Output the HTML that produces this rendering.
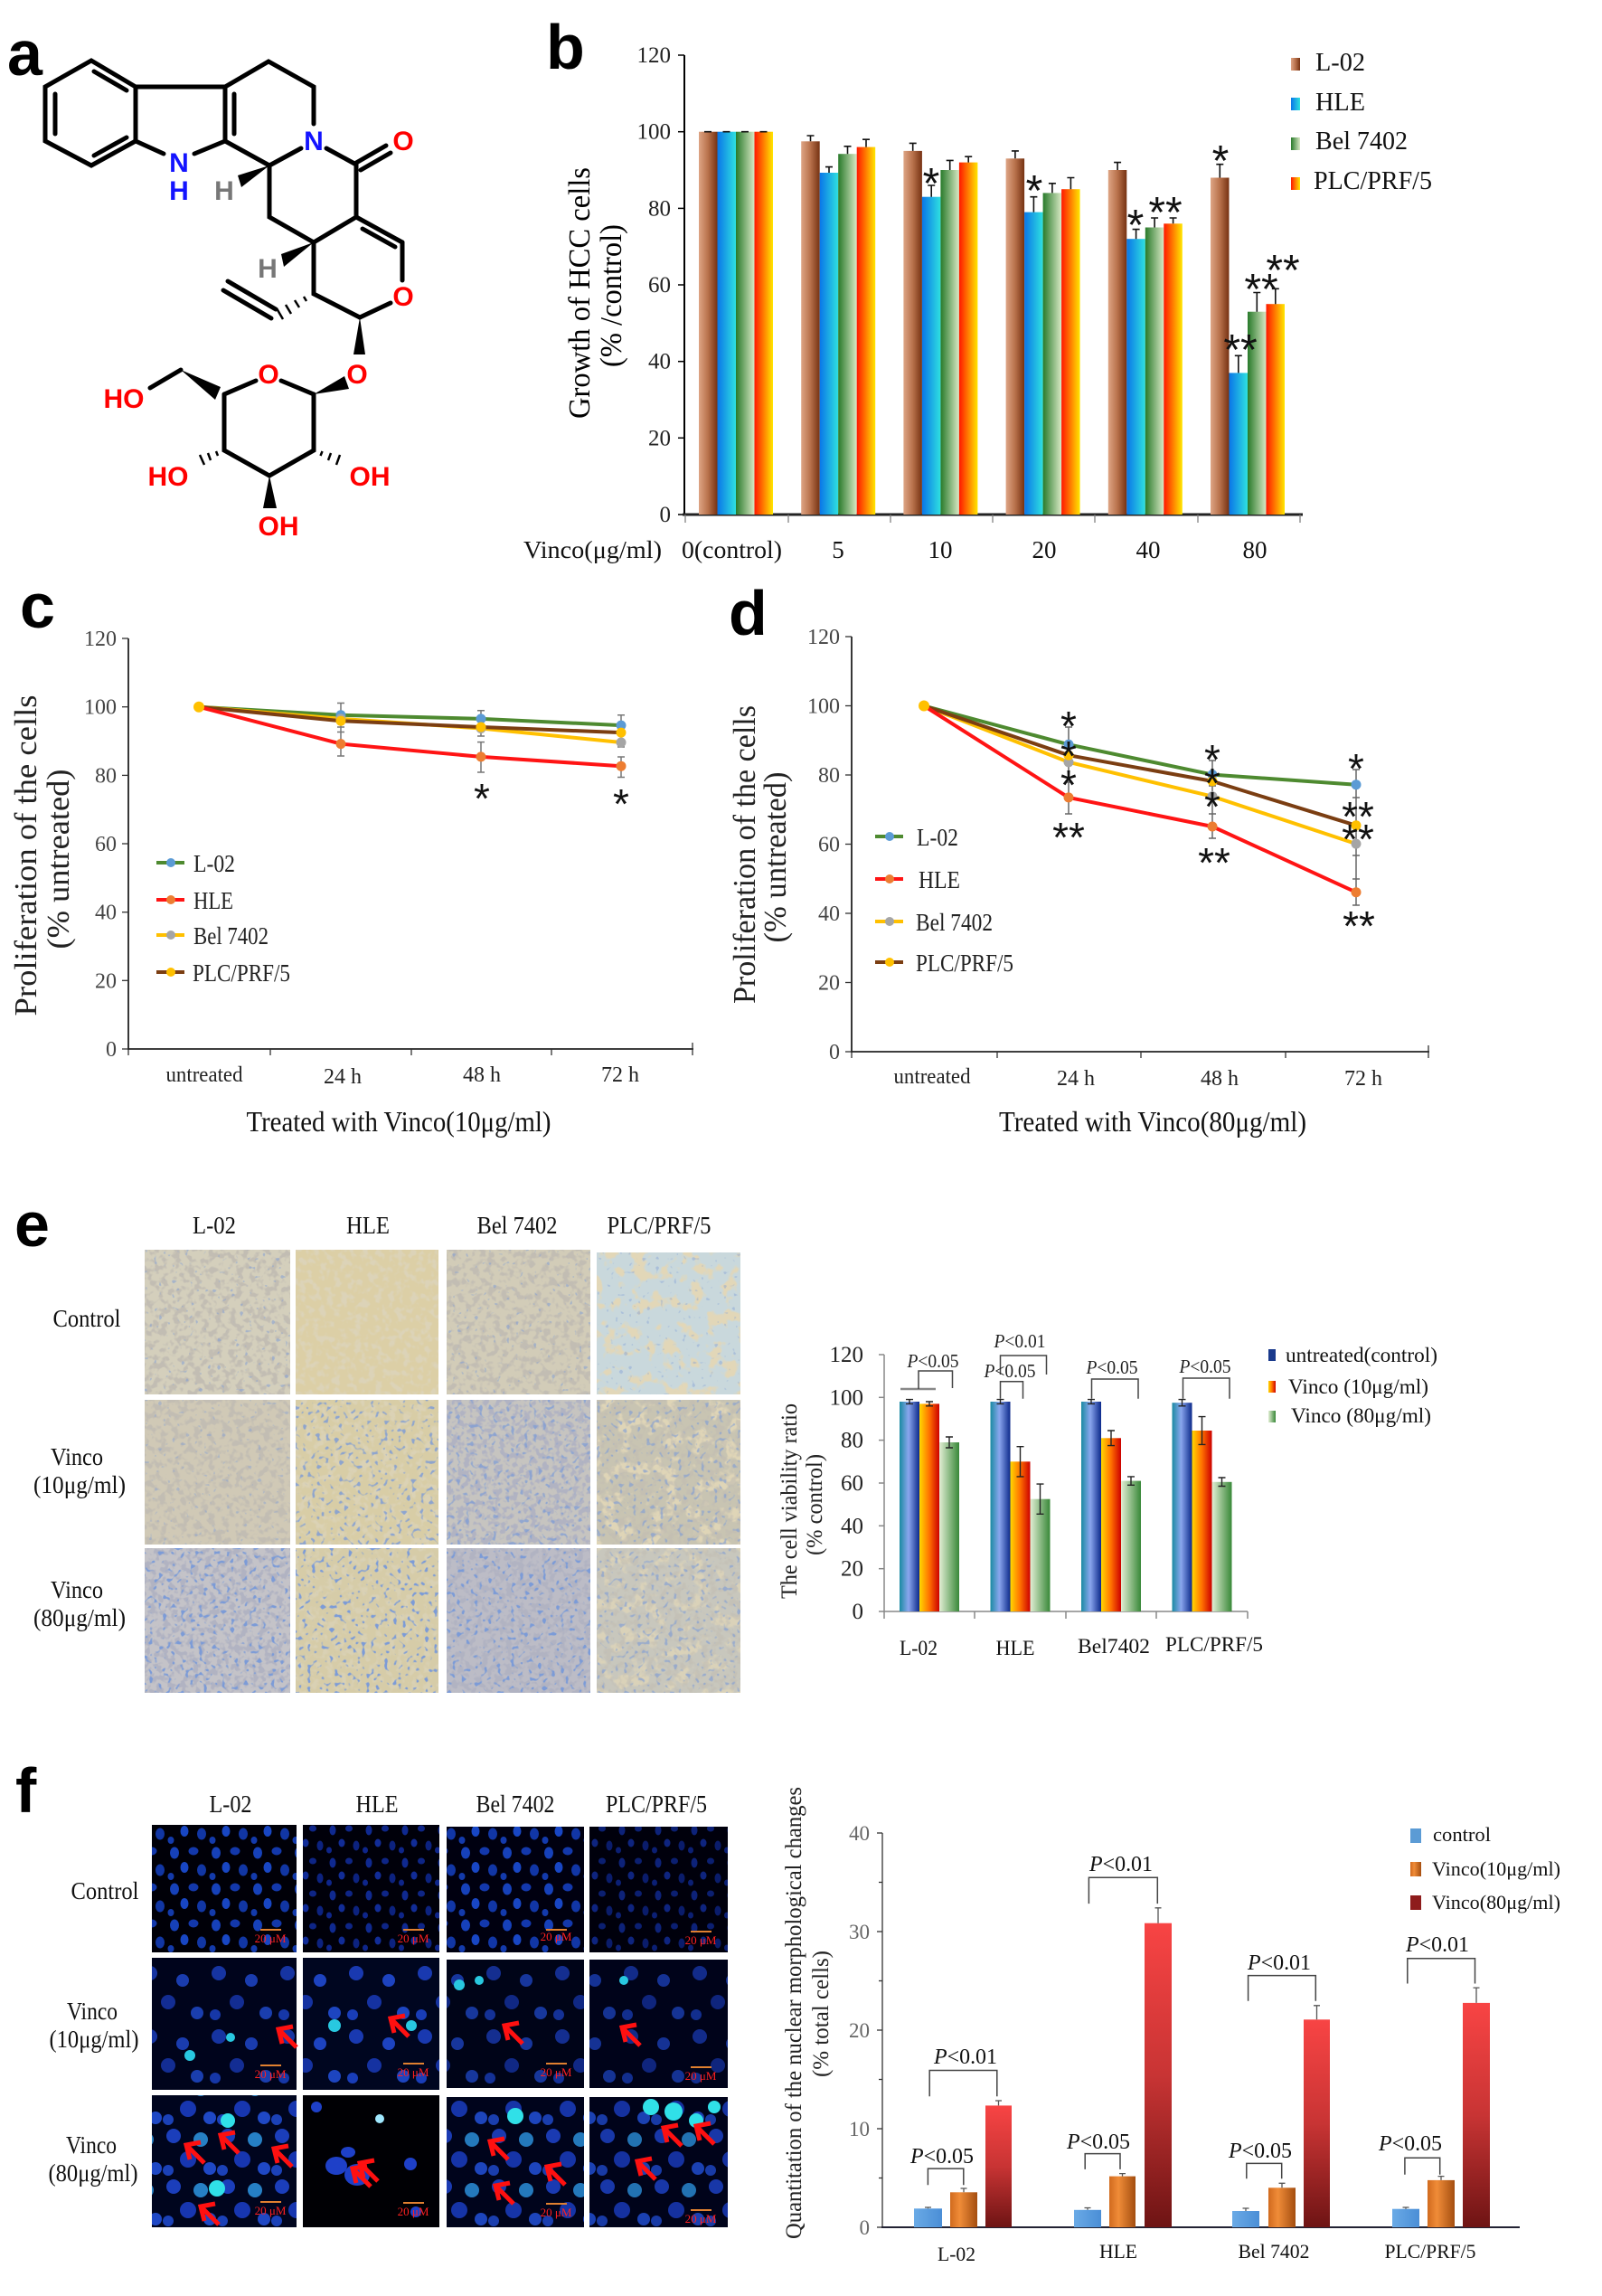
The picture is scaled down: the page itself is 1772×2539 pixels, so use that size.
<!DOCTYPE html>
<html><head><meta charset="utf-8">
<style>
html,body{margin:0;padding:0;background:#fff;}
svg{display:block;}
text{font-family:"Liberation Serif","DejaVu Serif",serif;}
.s{font-family:"Liberation Sans","DejaVu Sans",sans-serif;}
</style></head><body>
<svg width="1772" height="2539" viewBox="0 0 1772 2539" xmlns="http://www.w3.org/2000/svg">
<rect width="1772" height="2539" fill="#fff"/>
<defs>
<linearGradient id="gL" x1="0" x2="1" y1="0" y2="0"><stop offset="0" stop-color="#dea585"/><stop offset="0.5" stop-color="#b8714b"/><stop offset="1" stop-color="#763212"/></linearGradient>
<linearGradient id="gH" x1="0" x2="1" y1="0" y2="0"><stop offset="0" stop-color="#0a76e8"/><stop offset="1" stop-color="#2ee0e0"/></linearGradient>
<linearGradient id="gB" x1="0" x2="1" y1="0" y2="0"><stop offset="0" stop-color="#287a2a"/><stop offset="1" stop-color="#d8e8c4"/></linearGradient>
<linearGradient id="gP" x1="0" x2="1" y1="0" y2="0"><stop offset="0" stop-color="#ff1800"/><stop offset="1" stop-color="#ffe600"/></linearGradient>
<linearGradient id="gEb" x1="0" x2="1" y1="0" y2="0"><stop offset="0" stop-color="#1a8aa2"/><stop offset="0.45" stop-color="#8aa6ee"/><stop offset="1" stop-color="#0c2a8c"/></linearGradient>
<linearGradient id="gEr" x1="0" x2="1" y1="0" y2="0"><stop offset="0" stop-color="#ffd800"/><stop offset="0.5" stop-color="#ff7000"/><stop offset="1" stop-color="#cc0000"/></linearGradient>
<linearGradient id="gEg" x1="0" x2="1" y1="0" y2="0"><stop offset="0" stop-color="#e2eed4"/><stop offset="1" stop-color="#388838"/></linearGradient>
<linearGradient id="gFb" x1="0" x2="1" y1="0" y2="0"><stop offset="0" stop-color="#6aaae6"/><stop offset="1" stop-color="#4a8ed6"/></linearGradient>
<linearGradient id="gFo" x1="0" x2="1" y1="0" y2="0"><stop offset="0" stop-color="#d06a1e"/><stop offset="0.35" stop-color="#f08c38"/><stop offset="1" stop-color="#a44e10"/></linearGradient>
<linearGradient id="gFr" x1="0" x2="0" y1="0" y2="1"><stop offset="0" stop-color="#f84444"/><stop offset="0.5" stop-color="#c83434"/><stop offset="1" stop-color="#6e1414"/></linearGradient>

<filter id="fcg" x="0" y="0" width="1" height="1"><feTurbulence type="fractalNoise" baseFrequency="0.13" numOctaves="2" seed="7"/><feColorMatrix type="matrix" values="0 0 0 0 0.54  0 0 0 0 0.51  0 0 0 0 0.45  7 0 0 0 -3.4"/></filter>
<filter id="fct" x="0" y="0" width="1" height="1"><feTurbulence type="fractalNoise" baseFrequency="0.13" numOctaves="2" seed="3"/><feColorMatrix type="matrix" values="0 0 0 0 0.72  0 0 0 0 0.67  0 0 0 0 0.53  5 0 0 0 -2.4"/></filter>
<filter id="fcb" x="0" y="0" width="1" height="1"><feTurbulence type="fractalNoise" baseFrequency="0.15" numOctaves="2" seed="5"/><feColorMatrix type="matrix" values="0 0 0 0 0.44  0 0 0 0 0.45  0 0 0 0 0.54  7 0 0 0 -3.3"/></filter>
<filter id="fbl" x="0" y="0" width="1" height="1"><feTurbulence type="fractalNoise" baseFrequency="0.2" numOctaves="1" seed="11"/><feColorMatrix type="matrix" values="0 0 0 0 0.2  0 0 0 0 0.33  0 0 0 0 0.68  0 14 0 0 -9.4"/></filter>
<filter id="fbl2" x="0" y="0" width="1" height="1"><feTurbulence type="fractalNoise" baseFrequency="0.2" numOctaves="1" seed="19"/><feColorMatrix type="matrix" values="0 0 0 0 0.2  0 0 0 0 0.33  0 0 0 0 0.68  0 10 0 0 -6.0"/></filter>
<filter id="fpl" x="0" y="0" width="1" height="1"><feTurbulence type="fractalNoise" baseFrequency="0.06" numOctaves="3" seed="23"/><feColorMatrix type="matrix" values="0 0 0 0 0.76  0 0 0 0 0.68  0 0 0 0 0.48  8 0 0 0 -4.3"/></filter>

<pattern id="n1" width="46" height="40" patternUnits="userSpaceOnUse">
 <ellipse cx="9" cy="9" rx="5" ry="6.5" fill="#1a4cd8"/>
 <ellipse cx="30" cy="7" rx="5.5" ry="4.5" fill="#1642c8"/>
 <ellipse cx="20" cy="25" rx="4.5" ry="6" fill="#1c52e4"/>
 <ellipse cx="39" cy="28" rx="5" ry="6.5" fill="#1440c0"/>
 <ellipse cx="5" cy="35" rx="3.5" ry="4" fill="#1644c8"/>
</pattern>
<pattern id="n1d" width="40" height="36" patternUnits="userSpaceOnUse">
 <ellipse cx="8" cy="8" rx="3.5" ry="5.5" fill="#1230a8"/>
 <ellipse cx="26" cy="6" rx="4" ry="3.5" fill="#102c9c"/>
 <ellipse cx="18" cy="22" rx="3.5" ry="4.5" fill="#1434b0"/>
 <ellipse cx="34" cy="25" rx="3.5" ry="5.5" fill="#0e2894"/>
 <ellipse cx="4" cy="30" rx="3" ry="3.5" fill="#102ca0"/>
</pattern>
<pattern id="n2" width="76" height="70" patternUnits="userSpaceOnUse">
 <circle cx="14" cy="12" r="8" fill="#1a3cb8"/>
 <circle cx="50" cy="20" r="7" fill="#1e46c8"/>
 <circle cx="34" cy="44" r="8" fill="#1634a8"/>
 <circle cx="66" cy="56" r="7" fill="#1e48c8"/>
 <circle cx="10" cy="58" r="6" fill="#1a40c0"/>
</pattern>
<pattern id="n3" width="60" height="56" patternUnits="userSpaceOnUse">
 <circle cx="12" cy="10" r="8" fill="#1e44cc"/>
 <circle cx="42" cy="14" r="8" fill="#2a8ed8"/>
 <circle cx="28" cy="36" r="9" fill="#1a3cc0"/>
 <circle cx="52" cy="46" r="7" fill="#2250d8"/>
 <circle cx="6" cy="48" r="6" fill="#1e48c8"/>
</pattern>
<g id="arr"><path d="M16,-3 L0,0 L4,16 M0,0 L20,20" fill="none" stroke="#ff1010" stroke-width="5"/></g>
</defs>

<!-- ============ PANEL LABELS ============ -->
<g class="s" font-weight="bold" font-size="70" fill="#000">
<text class="s" x="8" y="83">a</text>
<text class="s" x="604" y="76">b</text>
<text class="s" x="22" y="694">c</text>
<text class="s" x="806" y="702">d</text>
<text class="s" x="16" y="1378">e</text>
<text class="s" x="17" y="2004">f</text>
</g>

<!-- ============ PANEL A: molecule ============ -->
<g stroke="#000" stroke-width="5" fill="none" stroke-linecap="round">
<path d="M101,67 L150,96 L150,156 L101,183 L50,156 L50,96 Z"/>
<line x1="104" y1="79" x2="140" y2="100"/>
<line x1="140" y1="152" x2="104" y2="172"/>
<line x1="61" y1="104" x2="61" y2="148"/>
<line x1="150" y1="96" x2="249" y2="96"/>
<line x1="150" y1="156" x2="181" y2="170"/>
<line x1="215" y1="170" x2="249" y2="156"/>
<line x1="249" y1="96" x2="249" y2="156"/>
<line x1="259" y1="104" x2="259" y2="148"/>
<path d="M249,96 L297,68 L347,96 L347,137"/>
<line x1="249" y1="156" x2="298" y2="183"/>
<line x1="298" y1="183" x2="333" y2="164"/>
<line x1="361" y1="164" x2="394" y2="182"/>
<line x1="394" y1="180" x2="427" y2="161"/>
<line x1="399" y1="188" x2="432" y2="169"/>
<path d="M298,183 L298,240 L347,268 L394,240 L394,182"/>
<line x1="394" y1="240" x2="445" y2="268"/>
<line x1="401" y1="253" x2="437" y2="273"/>
<line x1="445" y1="268" x2="445" y2="310"/>
<line x1="432" y1="335" x2="398" y2="351"/>
<path d="M398,351 L347,325 L347,268"/>
<line x1="300" y1="352" x2="247" y2="321"/>
<line x1="305" y1="342" x2="252" y2="311"/>
<line x1="311" y1="421" x2="347" y2="436"/>
<line x1="283" y1="421" x2="248" y2="436"/>
<path d="M248,436 L248,498 L298,526 L347,498 L347,436"/>
<line x1="200" y1="409" x2="166" y2="429"/>
</g>
<g stroke="#000" stroke-width="2.5">
<line x1="336" y1="328" x2="339" y2="333"/>
<line x1="326" y1="332" x2="331" y2="340"/>
<line x1="316" y1="337" x2="322" y2="347"/>
<line x1="306" y1="341" x2="313" y2="353"/>
<line x1="239" y1="499" x2="241" y2="504"/>
<line x1="230" y1="501" x2="233" y2="509"/>
<line x1="221" y1="503" x2="226" y2="514"/>
<line x1="356.5" y1="499" x2="354.5" y2="504"/>
<line x1="366" y1="501" x2="363" y2="509"/>
<line x1="376" y1="503" x2="372" y2="514"/>
</g>
<g fill="#000">
<polygon points="298,183 263,194 267,207"/>
<polygon points="347,268 311,281 314,295"/>
<polygon points="398,351 391,392 404,392"/>
<polygon points="347,436 381,416 386,430"/>
<polygon points="200,409 244,428 238,442"/>
<polygon points="298,526 291,562 306,562"/>
</g>
<g class="s" font-weight="bold" font-size="30" text-anchor="middle">
<text class="s" x="198" y="190" fill="#1414ff">N</text>
<text class="s" x="198" y="221" fill="#1414ff">H</text>
<text class="s" x="347" y="166" fill="#1414ff">N</text>
<text class="s" x="248" y="221" fill="#777">H</text>
<text class="s" x="296" y="307" fill="#777">H</text>
<text class="s" x="446" y="166" fill="#ff0000">O</text>
<text class="s" x="446" y="338" fill="#ff0000">O</text>
<text class="s" x="395" y="424" fill="#ff0000">O</text>
<text class="s" x="297" y="424" fill="#ff0000">O</text>
<text class="s" x="137" y="451" fill="#ff0000">HO</text>
<text class="s" x="186" y="537" fill="#ff0000">HO</text>
<text class="s" x="409" y="537" fill="#ff0000">OH</text>
<text class="s" x="308" y="592" fill="#ff0000">OH</text>
</g>

<!-- ============ PANEL B ============ -->
<g stroke="#000" stroke-width="1.5">
<line x1="757" y1="61" x2="757" y2="570" stroke-width="2"/>
<line x1="750" y1="61" x2="757" y2="61"/><line x1="750" y1="145.7" x2="757" y2="145.7"/><line x1="750" y1="230.4" x2="757" y2="230.4"/><line x1="750" y1="315" x2="757" y2="315"/><line x1="750" y1="399.7" x2="757" y2="399.7"/><line x1="750" y1="484.3" x2="757" y2="484.3"/><line x1="750" y1="569" x2="757" y2="569"/>
</g>
<line x1="755" y1="569" x2="1441" y2="569" stroke="#222" stroke-width="3"/>
<g stroke="#777" stroke-width="1.2">
<line x1="758" y1="569" x2="758" y2="578"/><line x1="872" y1="569" x2="872" y2="578"/><line x1="985" y1="569" x2="985" y2="578"/><line x1="1098" y1="569" x2="1098" y2="578"/><line x1="1211" y1="569" x2="1211" y2="578"/><line x1="1325" y1="569" x2="1325" y2="578"/><line x1="1438" y1="569" x2="1438" y2="578"/>
</g>
<g font-size="25" text-anchor="end" fill="#222">
<text x="742" y="69">120</text><text x="742" y="153.7">100</text><text x="742" y="238.4">80</text><text x="742" y="323">60</text><text x="742" y="407.7">40</text><text x="742" y="492.3">20</text><text x="742" y="577">0</text>
</g>
<g font-size="27" fill="#111">
<text x="579" y="617" textLength="153" lengthAdjust="spacingAndGlyphs">Vinco(μg/ml)</text>
<text x="754" y="617" textLength="111" lengthAdjust="spacingAndGlyphs">0(control)</text>
<g text-anchor="middle"><text x="927" y="617">5</text><text x="1040" y="617">10</text><text x="1155" y="617">20</text><text x="1270" y="617">40</text><text x="1388" y="617">80</text></g>
</g>
<text transform="translate(652,324) rotate(-90)" text-anchor="middle" font-size="34" textLength="278" lengthAdjust="spacingAndGlyphs">Growth of HCC cells</text>
<text transform="translate(687,327) rotate(-90)" text-anchor="middle" font-size="34" textLength="158" lengthAdjust="spacingAndGlyphs">(% /control)</text>
<g>
<rect x="773" y="145.7" width="20.5" height="423.3" fill="url(#gL)"/><rect x="793.5" y="145.7" width="20.5" height="423.3" fill="url(#gH)"/><rect x="814" y="145.7" width="20.5" height="423.3" fill="url(#gB)"/><rect x="834.5" y="145.7" width="20.5" height="423.3" fill="url(#gP)"/>
<rect x="886.2" y="156.3" width="20.5" height="412.7" fill="url(#gL)"/><rect x="906.7" y="191" width="20.5" height="378" fill="url(#gH)"/><rect x="927.2" y="170.2" width="20.5" height="398.8" fill="url(#gB)"/><rect x="947.7" y="162.6" width="20.5" height="406.4" fill="url(#gP)"/>
<rect x="999.4" y="166.9" width="20.5" height="402.1" fill="url(#gL)"/><rect x="1019.9" y="217.7" width="20.5" height="351.3" fill="url(#gH)"/><rect x="1040.4" y="188" width="20.5" height="381" fill="url(#gB)"/><rect x="1060.9" y="179.6" width="20.5" height="389.4" fill="url(#gP)"/>
<rect x="1112.6" y="175.3" width="20.5" height="393.7" fill="url(#gL)"/><rect x="1133.1" y="234.6" width="20.5" height="334.4" fill="url(#gH)"/><rect x="1153.6" y="213.4" width="20.5" height="355.6" fill="url(#gB)"/><rect x="1174.1" y="209.2" width="20.5" height="359.8" fill="url(#gP)"/>
<rect x="1225.8" y="188" width="20.5" height="381" fill="url(#gL)"/><rect x="1246.3" y="264.2" width="20.5" height="304.8" fill="url(#gH)"/><rect x="1266.8" y="251.5" width="20.5" height="317.5" fill="url(#gB)"/><rect x="1287.3" y="247.3" width="20.5" height="321.7" fill="url(#gP)"/>
<rect x="1339" y="196.5" width="20.5" height="372.5" fill="url(#gL)"/><rect x="1359.5" y="412.4" width="20.5" height="156.6" fill="url(#gH)"/><rect x="1380" y="344.7" width="20.5" height="224.3" fill="url(#gB)"/><rect x="1400.5" y="336.2" width="20.5" height="232.8" fill="url(#gP)"/>
</g>
<g stroke="#111" stroke-width="1.6" fill="none">
<path d="M779,145.7 H787 M799.5,145.7 H807.5 M820,145.7 H828 M840.5,145.7 H848.5"/>
<path d="M896.5,150 V156.3 M892.5,150 H900.5 M917,184.6 V191 M913,184.6 H921 M937.5,161.8 V170.2 M933.5,161.8 H941.5 M958,154.2 V162.6 M954,154.2 H962"/>
<path d="M1009.7,158.4 V166.9 M1005.7,158.4 H1013.7 M1030.2,205 V217.7 M1026.2,205 H1034.2 M1050.7,177.4 V188 M1046.7,177.4 H1054.7 M1071.2,173.2 V179.6 M1067.2,173.2 H1075.2"/>
<path d="M1122.9,166.9 V175.3 M1118.9,166.9 H1126.9 M1143.4,217.7 V234.6 M1139.4,217.7 H1147.4 M1163.9,202.8 V213.4 M1159.9,202.8 H1167.9 M1184.4,196.5 V209.2 M1180.4,196.5 H1188.4"/>
<path d="M1236.1,179.6 V188 M1232.1,179.6 H1240.1 M1256.6,253.6 V264.2 M1252.6,253.6 H1260.6 M1277.1,241 V251.5 M1273.1,241 H1281.1 M1297.6,241 V247.3 M1293.6,241 H1301.6"/>
<path d="M1349.3,181.7 V196.5 M1345.3,181.7 H1353.3 M1369.8,393.3 V412.4 M1365.8,393.3 H1373.8 M1390.3,323.5 V344.7 M1386.3,323.5 H1394.3 M1410.8,319.3 V336.2 M1406.8,319.3 H1414.8"/>
</g>
<g class="s" font-size="48" text-anchor="middle" fill="#111">
<text class="s" x="1030" y="219">*</text>
<text class="s" x="1144" y="227">*</text>
<text class="s" x="1256" y="265">*</text>
<text class="s" x="1289" y="251">**</text>
<text class="s" x="1350" y="194">*</text>
<text class="s" x="1372" y="403">**</text>
<text class="s" x="1395" y="336">**</text>
<text class="s" x="1419" y="315">**</text>
</g>
<rect x="1428" y="64" width="10" height="14" fill="url(#gL)"/>
<rect x="1428" y="108" width="10" height="14" fill="url(#gH)"/>
<rect x="1428" y="152" width="10" height="14" fill="url(#gB)"/>
<rect x="1428" y="196" width="10" height="14" fill="url(#gP)"/>
<g font-size="28" fill="#111">
<text x="1455" y="78" textLength="55" lengthAdjust="spacingAndGlyphs">L-02</text>
<text x="1455" y="122" textLength="55" lengthAdjust="spacingAndGlyphs">HLE</text>
<text x="1455" y="165" textLength="102" lengthAdjust="spacingAndGlyphs">Bel 7402</text>
<text x="1453" y="209" textLength="131" lengthAdjust="spacingAndGlyphs">PLC/PRF/5</text>
</g>

<!-- ============ PANEL C ============ -->
<g stroke="#222" stroke-width="1.8">
<line x1="142" y1="706" x2="142" y2="1161"/>
<line x1="141" y1="1160" x2="767" y2="1160"/>
</g>
<g stroke="#333" stroke-width="1.3">
<line x1="135" y1="706" x2="142" y2="706"/><line x1="135" y1="781.7" x2="142" y2="781.7"/><line x1="135" y1="857.4" x2="142" y2="857.4"/><line x1="135" y1="933" x2="142" y2="933"/><line x1="135" y1="1008.7" x2="142" y2="1008.7"/><line x1="135" y1="1084.3" x2="142" y2="1084.3"/><line x1="135" y1="1160" x2="142" y2="1160"/>
<line x1="299" y1="1160" x2="299" y2="1167"/><line x1="455" y1="1160" x2="455" y2="1167"/><line x1="610" y1="1160" x2="610" y2="1167"/><line x1="766" y1="1153" x2="766" y2="1167"/><line x1="142" y1="1160" x2="142" y2="1167"/>
</g>
<g font-size="24" text-anchor="end" fill="#444">
<text x="129" y="714">120</text><text x="129" y="789.7">100</text><text x="129" y="865.4">80</text><text x="129" y="941">60</text><text x="129" y="1016.7">40</text><text x="129" y="1092.3">20</text><text x="129" y="1168">0</text>
</g>
<g font-size="24" text-anchor="middle" fill="#222">
<text x="226" y="1196" textLength="85" lengthAdjust="spacingAndGlyphs">untreated</text>
<text x="379" y="1198">24 h</text><text x="533" y="1196">48 h</text><text x="686" y="1196">72 h</text>
</g>
<text x="441" y="1251" font-size="32" text-anchor="middle" textLength="337" lengthAdjust="spacingAndGlyphs" fill="#111">Treated with Vinco(10μg/ml)</text>
<text transform="translate(40,946) rotate(-90)" text-anchor="middle" font-size="35" textLength="355" lengthAdjust="spacingAndGlyphs" fill="#222">Proliferation of the cells</text>
<text transform="translate(76,950) rotate(-90)" text-anchor="middle" font-size="35" textLength="199" lengthAdjust="spacingAndGlyphs" fill="#222">(% untreated)</text>
<g stroke="#777" stroke-width="1.5" fill="none">
<path d="M377,777.5 V809 M373,777.5 H381 M373,804 H381 M377,809.5 V836 M373,809.5 H381 M373,836 H381"/>
<path d="M532,785.7 V802 M528,785.7 H536 M532,801 V814 M528,814 H536 M532,820.6 V854 M528,820.6 H536 M528,854 H536"/>
<path d="M687,790.7 V812.4 M683,790.7 H691 M683,812.4 H691 M687,816.5 V826 M683,826 H691 M687,837 V859.5 M683,837 H691 M683,859.5 H691"/>
</g>
<g fill="none" stroke-width="4" stroke-linejoin="round">
<polyline points="220,781.7 377,790.8 532,794.9 687,802.1" stroke="#4e8a30"/>
<polyline points="220,781.7 377,794.9 532,805.5 687,821" stroke="#ffc000"/>
<polyline points="220,781.7 377,797.2 532,804 687,810.1" stroke="#7b3e12"/>
<polyline points="220,781.7 377,822.6 532,836.9 687,847.2" stroke="#ff1414"/>
</g>
<g>
<circle cx="377" cy="790.8" r="5.5" fill="#5b9bd5"/><circle cx="532" cy="794.9" r="5.5" fill="#5b9bd5"/><circle cx="687" cy="802.1" r="5.5" fill="#5b9bd5"/>
<circle cx="377" cy="794.9" r="5.5" fill="#a5a5a5"/><circle cx="532" cy="805.5" r="5.5" fill="#a5a5a5"/><circle cx="687" cy="821" r="5.5" fill="#a5a5a5"/>
<circle cx="377" cy="797.2" r="5.5" fill="#ffc000"/><circle cx="532" cy="804" r="5.5" fill="#ffc000"/><circle cx="687" cy="810.1" r="5.5" fill="#ffc000"/>
<circle cx="377" cy="822.6" r="5.5" fill="#ed7d31"/><circle cx="532" cy="836.9" r="5.5" fill="#ed7d31"/><circle cx="687" cy="847.2" r="5.5" fill="#ed7d31"/>
<circle cx="220" cy="781.7" r="6" fill="#ffc000"/>
</g>
<g class="s" font-size="46" text-anchor="middle" fill="#111">
<text class="s" x="533" y="899">*</text><text class="s" x="687" y="905">*</text>
</g>
<g stroke-width="4">
<line x1="173" y1="954" x2="204" y2="954" stroke="#4e8a30"/><circle cx="189" cy="954" r="5" fill="#5b9bd5"/>
<line x1="173" y1="995" x2="204" y2="995" stroke="#ff1414"/><circle cx="189" cy="995" r="5" fill="#ed7d31"/>
<line x1="173" y1="1034" x2="204" y2="1034" stroke="#ffc000"/><circle cx="189" cy="1034" r="5" fill="#a5a5a5"/>
<line x1="173" y1="1075" x2="204" y2="1075" stroke="#7b3e12"/><circle cx="189" cy="1075" r="5" fill="#ffc000"/>
</g>
<g font-size="27" fill="#222">
<text x="214" y="964" textLength="46" lengthAdjust="spacingAndGlyphs">L-02</text>
<text x="214" y="1005" textLength="44" lengthAdjust="spacingAndGlyphs">HLE</text>
<text x="214" y="1044" textLength="83" lengthAdjust="spacingAndGlyphs">Bel 7402</text>
<text x="213" y="1085" textLength="108" lengthAdjust="spacingAndGlyphs">PLC/PRF/5</text>
</g>

<!-- ============ PANEL D ============ -->
<g stroke="#222" stroke-width="1.8">
<line x1="942" y1="704" x2="942" y2="1164"/>
<line x1="941" y1="1163" x2="1581" y2="1163"/>
</g>
<g stroke="#333" stroke-width="1.3">
<line x1="935" y1="704" x2="942" y2="704"/><line x1="935" y1="780.5" x2="942" y2="780.5"/><line x1="935" y1="857" x2="942" y2="857"/><line x1="935" y1="933.5" x2="942" y2="933.5"/><line x1="935" y1="1010" x2="942" y2="1010"/><line x1="935" y1="1086.5" x2="942" y2="1086.5"/><line x1="935" y1="1163" x2="942" y2="1163"/>
<line x1="942" y1="1163" x2="942" y2="1170"/><line x1="1103" y1="1163" x2="1103" y2="1170"/><line x1="1262" y1="1163" x2="1262" y2="1170"/><line x1="1422" y1="1163" x2="1422" y2="1170"/><line x1="1580" y1="1156" x2="1580" y2="1170"/>
</g>
<g font-size="24" text-anchor="end" fill="#444">
<text x="929" y="712">120</text><text x="929" y="788.5">100</text><text x="929" y="865">80</text><text x="929" y="941.5">60</text><text x="929" y="1018">40</text><text x="929" y="1094.5">20</text><text x="929" y="1171">0</text>
</g>
<g font-size="24" text-anchor="middle" fill="#222">
<text x="1031" y="1198" textLength="85" lengthAdjust="spacingAndGlyphs">untreated</text>
<text x="1190" y="1200">24 h</text><text x="1349" y="1200">48 h</text><text x="1508" y="1200">72 h</text>
</g>
<text x="1275" y="1251" font-size="32" text-anchor="middle" textLength="340" lengthAdjust="spacingAndGlyphs" fill="#111">Treated with Vinco(80μg/ml)</text>
<text transform="translate(835,945) rotate(-90)" text-anchor="middle" font-size="35" textLength="330" lengthAdjust="spacingAndGlyphs" fill="#222">Proliferation of the cells</text>
<text transform="translate(869,948) rotate(-90)" text-anchor="middle" font-size="35" textLength="189" lengthAdjust="spacingAndGlyphs" fill="#222">(% untreated)</text>
<g stroke="#666" stroke-width="1.5" fill="none">
<path d="M1182,804 V900 M1178,804 H1186 M1178,842 H1186 M1178,865 H1186 M1178,900 H1186"/>
<path d="M1341,841 V927 M1337,841 H1345 M1337,869 H1345 M1337,900 H1345 M1337,927 H1345"/>
<path d="M1500,851 V1001 M1496,851 H1504 M1496,882 H1504 M1496,946 H1504 M1496,972 H1504 M1496,1001 H1504"/>
</g>
<g fill="none" stroke-width="4" stroke-linejoin="round">
<polyline points="1022,780.5 1182,823.3 1341,856.6 1500,867.7" stroke="#4e8a30"/>
<polyline points="1022,780.5 1182,842.8 1341,880.7 1500,933.1" stroke="#ffc000"/>
<polyline points="1022,780.5 1182,835.2 1341,863.9 1500,912.8" stroke="#7b3e12"/>
<polyline points="1022,780.5 1182,881.9 1341,914 1500,986.7" stroke="#ff1414"/>
</g>
<g>
<circle cx="1182" cy="823.3" r="5.5" fill="#5b9bd5"/><circle cx="1341" cy="856.6" r="5.5" fill="#5b9bd5"/><circle cx="1500" cy="867.7" r="5.5" fill="#5b9bd5"/>
<circle cx="1182" cy="842.8" r="5.5" fill="#a5a5a5"/><circle cx="1341" cy="880.7" r="5.5" fill="#a5a5a5"/><circle cx="1500" cy="933.1" r="5.5" fill="#a5a5a5"/>
<circle cx="1182" cy="835.2" r="5.5" fill="#ffc000"/><circle cx="1341" cy="863.9" r="5.5" fill="#ffc000"/><circle cx="1500" cy="912.8" r="5.5" fill="#ffc000"/>
<circle cx="1182" cy="881.9" r="5.5" fill="#ed7d31"/><circle cx="1341" cy="914" r="5.5" fill="#ed7d31"/><circle cx="1500" cy="986.7" r="5.5" fill="#ed7d31"/>
<circle cx="1022" cy="780.5" r="6" fill="#ffc000"/>
</g>
<g class="s" font-size="46" text-anchor="middle" fill="#111">
<text class="s" x="1182" y="819">*</text><text class="s" x="1182" y="852">*</text><text class="s" x="1182" y="884">*</text><text class="s" x="1182" y="942">**</text>
<text class="s" x="1341" y="856">*</text><text class="s" x="1341" y="882">*</text><text class="s" x="1341" y="908">*</text><text class="s" x="1343" y="970">**</text>
<text class="s" x="1500" y="866">*</text><text class="s" x="1502" y="919">**</text><text class="s" x="1502" y="944">**</text><text class="s" x="1503" y="1040">**</text>
</g>
<g stroke-width="4">
<line x1="968" y1="925" x2="999" y2="925" stroke="#4e8a30"/><circle cx="984" cy="925" r="5" fill="#5b9bd5"/>
<line x1="968" y1="972" x2="999" y2="972" stroke="#ff1414"/><circle cx="984" cy="972" r="5" fill="#ed7d31"/>
<line x1="968" y1="1019" x2="999" y2="1019" stroke="#ffc000"/><circle cx="984" cy="1019" r="5" fill="#a5a5a5"/>
<line x1="968" y1="1064" x2="999" y2="1064" stroke="#7b3e12"/><circle cx="984" cy="1064" r="5" fill="#ffc000"/>
</g>
<g font-size="27" fill="#222">
<text x="1014" y="935" textLength="46" lengthAdjust="spacingAndGlyphs">L-02</text>
<text x="1016" y="982" textLength="46" lengthAdjust="spacingAndGlyphs">HLE</text>
<text x="1013" y="1029" textLength="85" lengthAdjust="spacingAndGlyphs">Bel 7402</text>
<text x="1013" y="1074" textLength="108" lengthAdjust="spacingAndGlyphs">PLC/PRF/5</text>
</g>

<!-- ============ PANEL E images ============ -->
<g font-size="27" text-anchor="middle" fill="#111">
<text x="237" y="1364" textLength="48" lengthAdjust="spacingAndGlyphs">L-02</text>
<text x="407" y="1364" textLength="48" lengthAdjust="spacingAndGlyphs">HLE</text>
<text x="572" y="1364" textLength="89" lengthAdjust="spacingAndGlyphs">Bel 7402</text>
<text x="729" y="1364" textLength="115" lengthAdjust="spacingAndGlyphs">PLC/PRF/5</text>
<text x="96" y="1467" textLength="75" lengthAdjust="spacingAndGlyphs">Control</text>
<text x="85" y="1620" textLength="58" lengthAdjust="spacingAndGlyphs">Vinco</text>
<text x="88" y="1651" textLength="102" lengthAdjust="spacingAndGlyphs">(10μg/ml)</text>
<text x="85" y="1767" textLength="58" lengthAdjust="spacingAndGlyphs">Vinco</text>
<text x="88" y="1798" textLength="102" lengthAdjust="spacingAndGlyphs">(80μg/ml)</text>
</g>
<!-- row 1 -->
<rect x="160" y="1382" width="161" height="160" fill="#d4cfbc"/><rect x="160" y="1382" width="161" height="160" filter="url(#fcg)"/><rect x="160" y="1382" width="161" height="160" filter="url(#fbl)" opacity="0.5"/>
<rect x="327" y="1382" width="158" height="160" fill="#dccfa6"/><rect x="327" y="1382" width="158" height="160" filter="url(#fct)" opacity="0.7"/>
<rect x="494" y="1382" width="159" height="160" fill="#d2ccb8"/><rect x="494" y="1382" width="159" height="160" filter="url(#fcg)"/><rect x="494" y="1382" width="159" height="160" filter="url(#fbl)" opacity="0.5"/>
<rect x="660" y="1385" width="159" height="157" fill="#c9d8dc"/><rect x="660" y="1385" width="159" height="157" filter="url(#fpl)"/><rect x="660" y="1385" width="159" height="157" filter="url(#fbl)" opacity="0.4"/>
<!-- row 2 -->
<rect x="160" y="1548" width="161" height="160" fill="#d0c9b6"/><rect x="160" y="1548" width="161" height="160" filter="url(#fcg)"/><rect x="160" y="1548" width="161" height="160" filter="url(#fbl)" opacity="0.4"/>
<rect x="327" y="1548" width="158" height="160" fill="#d8cda6"/><rect x="327" y="1548" width="158" height="160" filter="url(#fct)" opacity="0.6"/><rect x="327" y="1548" width="158" height="160" filter="url(#fbl2)" opacity="0.8"/>
<rect x="494" y="1548" width="159" height="160" fill="#c6c4c0"/><rect x="494" y="1548" width="159" height="160" filter="url(#fcb)"/><rect x="494" y="1548" width="159" height="160" filter="url(#fbl2)" opacity="0.7"/>
<rect x="660" y="1548" width="159" height="160" fill="#c8c4b2"/><rect x="660" y="1548" width="159" height="160" filter="url(#fpl)" opacity="0.9"/><rect x="660" y="1548" width="159" height="160" filter="url(#fcg)" opacity="0.6"/><rect x="660" y="1548" width="159" height="160" filter="url(#fbl2)" opacity="0.6"/>
<!-- row 3 -->
<rect x="160" y="1712" width="161" height="160" fill="#c4c3c8"/><rect x="160" y="1712" width="161" height="160" filter="url(#fcb)"/><rect x="160" y="1712" width="161" height="160" filter="url(#fbl2)"/>
<rect x="327" y="1712" width="158" height="160" fill="#d6cca8"/><rect x="327" y="1712" width="158" height="160" filter="url(#fct)" opacity="0.5"/><rect x="327" y="1712" width="158" height="160" filter="url(#fbl2)"/>
<rect x="494" y="1712" width="159" height="160" fill="#bcbcc6"/><rect x="494" y="1712" width="159" height="160" filter="url(#fcb)"/><rect x="494" y="1712" width="159" height="160" filter="url(#fbl2)"/>
<rect x="660" y="1712" width="159" height="160" fill="#c8c7bd"/><rect x="660" y="1712" width="159" height="160" filter="url(#fpl)" opacity="0.7"/><rect x="660" y="1712" width="159" height="160" filter="url(#fcg)" opacity="0.5"/><rect x="660" y="1712" width="159" height="160" filter="url(#fbl2)" opacity="0.6"/>

<!-- ============ PANEL E chart ============ -->
<g stroke="#888" stroke-width="1.5">
<line x1="978" y1="1498" x2="978" y2="1790"/>
<line x1="978" y1="1782" x2="1380" y2="1782"/>
<line x1="972" y1="1498" x2="978" y2="1498"/><line x1="972" y1="1545.3" x2="978" y2="1545.3"/><line x1="972" y1="1592.6" x2="978" y2="1592.6"/><line x1="972" y1="1640" x2="978" y2="1640"/><line x1="972" y1="1687.3" x2="978" y2="1687.3"/><line x1="972" y1="1734.7" x2="978" y2="1734.7"/><line x1="972" y1="1782" x2="978" y2="1782"/>
<line x1="1078" y1="1782" x2="1078" y2="1790"/><line x1="1179" y1="1782" x2="1179" y2="1790"/><line x1="1279" y1="1782" x2="1279" y2="1790"/><line x1="1380" y1="1782" x2="1380" y2="1790"/>
</g>
<g font-size="25" text-anchor="end" fill="#222">
<text x="955" y="1506">120</text><text x="955" y="1553.3">100</text><text x="955" y="1600.6">80</text><text x="955" y="1648">60</text><text x="955" y="1695.3">40</text><text x="955" y="1742.7">20</text><text x="955" y="1790">0</text>
</g>
<text transform="translate(881,1660) rotate(-90)" text-anchor="middle" font-size="25" textLength="216" lengthAdjust="spacingAndGlyphs" fill="#222">The cell viability ratio</text>
<text transform="translate(909,1664) rotate(-90)" text-anchor="middle" font-size="25" textLength="112" lengthAdjust="spacingAndGlyphs" fill="#222">(% control)</text>
<g font-size="23" text-anchor="middle" fill="#111">
<text x="1016" y="1830" textLength="42" lengthAdjust="spacingAndGlyphs">L-02</text>
<text x="1123" y="1830" textLength="43" lengthAdjust="spacingAndGlyphs">HLE</text>
<text x="1232" y="1828" textLength="80" lengthAdjust="spacingAndGlyphs">Bel7402</text>
<text x="1343" y="1826" textLength="108" lengthAdjust="spacingAndGlyphs">PLC/PRF/5</text>
</g>
<g>
<rect x="995" y="1550" width="22" height="232" fill="url(#gEb)"/><rect x="1017" y="1552.4" width="22" height="229.6" fill="url(#gEr)"/><rect x="1039" y="1595" width="22" height="187" fill="url(#gEg)"/>
<rect x="1095.5" y="1550" width="22" height="232" fill="url(#gEb)"/><rect x="1117.5" y="1616.3" width="22" height="165.7" fill="url(#gEr)"/><rect x="1139.5" y="1657.7" width="22" height="124.3" fill="url(#gEg)"/>
<rect x="1196" y="1550" width="22" height="232" fill="url(#gEb)"/><rect x="1218" y="1590.3" width="22" height="191.7" fill="url(#gEr)"/><rect x="1240" y="1637.6" width="22" height="144.4" fill="url(#gEg)"/>
<rect x="1296.5" y="1551.2" width="22" height="230.8" fill="url(#gEb)"/><rect x="1318.5" y="1582" width="22" height="200" fill="url(#gEr)"/><rect x="1340.5" y="1638.8" width="22" height="143.2" fill="url(#gEg)"/>
</g>
<g stroke="#222" stroke-width="1.4" fill="none">
<path d="M1006,1547.6 V1552.4 M1002,1547.6 H1010 M1002,1552.4 H1010 M1028,1550 V1554.8 M1024,1550 H1032 M1024,1554.8 H1032 M1050,1589 V1601 M1046,1589 H1054 M1046,1601 H1054"/>
<path d="M1106.5,1547.6 V1552.4 M1102.5,1547.6 H1110.5 M1102.5,1552.4 H1110.5 M1128.5,1599.7 V1632.9 M1124.5,1599.7 H1132.5 M1124.5,1632.9 H1132.5 M1150.5,1641.1 V1674.3 M1146.5,1641.1 H1154.5 M1146.5,1674.3 H1154.5"/>
<path d="M1207,1547.6 V1552.4 M1203,1547.6 H1211 M1203,1552.4 H1211 M1229,1582 V1598.6 M1225,1582 H1233 M1225,1598.6 H1233 M1251,1632.9 V1642.3 M1247,1632.9 H1255 M1247,1642.3 H1255"/>
<path d="M1307.5,1547.6 V1554.8 M1303.5,1547.6 H1311.5 M1303.5,1554.8 H1311.5 M1329.5,1566.6 V1597.4 M1325.5,1566.6 H1333.5 M1325.5,1597.4 H1333.5 M1351.5,1634 V1643.5 M1347.5,1634 H1355.5 M1347.5,1643.5 H1355.5"/>
</g>
<g stroke="#444" stroke-width="1.5" fill="none">
<line x1="996" y1="1536" x2="1035" y2="1536" stroke="#888" stroke-width="2.5"/>
<path d="M1016,1536 V1516 H1053.5 V1535"/>
<path d="M1106.5,1546.7 V1527.7 H1131.5 V1546.7"/>
<path d="M1106.5,1520 V1499 H1157.5 V1520"/>
<path d="M1207.5,1546.7 V1525 H1259 V1546.7"/>
<path d="M1308.5,1546.7 V1524 H1360 V1546.7"/>
</g>
<g font-size="21" text-anchor="middle" fill="#222">
<text x="1032" y="1512" textLength="57" lengthAdjust="spacingAndGlyphs"><tspan font-style="italic">P</tspan>&lt;0.05</text>
<text x="1117" y="1523" textLength="57" lengthAdjust="spacingAndGlyphs"><tspan font-style="italic">P</tspan>&lt;0.05</text>
<text x="1128" y="1490" textLength="57" lengthAdjust="spacingAndGlyphs"><tspan font-style="italic">P</tspan>&lt;0.01</text>
<text x="1230" y="1519" textLength="57" lengthAdjust="spacingAndGlyphs"><tspan font-style="italic">P</tspan>&lt;0.05</text>
<text x="1333" y="1518" textLength="57" lengthAdjust="spacingAndGlyphs"><tspan font-style="italic">P</tspan>&lt;0.05</text>
</g>
<rect x="1403" y="1492" width="8" height="13" fill="#1a3a8c"/>
<rect x="1403" y="1527" width="8" height="13" fill="url(#gEr)"/>
<rect x="1403" y="1560" width="8" height="13" fill="url(#gEg)"/>
<g font-size="23" fill="#111">
<text x="1422" y="1506" textLength="168" lengthAdjust="spacingAndGlyphs">untreated(control)</text>
<text x="1425" y="1541" textLength="155" lengthAdjust="spacingAndGlyphs">Vinco (10μg/ml)</text>
<text x="1428" y="1573" textLength="155" lengthAdjust="spacingAndGlyphs">Vinco (80μg/ml)</text>
</g>

<!-- ============ PANEL F images ============ -->
<g font-size="27" text-anchor="middle" fill="#111">
<text x="255" y="2004" textLength="47" lengthAdjust="spacingAndGlyphs">L-02</text>
<text x="417" y="2004" textLength="47" lengthAdjust="spacingAndGlyphs">HLE</text>
<text x="570" y="2004" textLength="87" lengthAdjust="spacingAndGlyphs">Bel 7402</text>
<text x="726" y="2004" textLength="112" lengthAdjust="spacingAndGlyphs">PLC/PRF/5</text>
<text x="116" y="2100" textLength="75" lengthAdjust="spacingAndGlyphs">Control</text>
<text x="102" y="2233" textLength="56" lengthAdjust="spacingAndGlyphs">Vinco</text>
<text x="104" y="2264" textLength="99" lengthAdjust="spacingAndGlyphs">(10μg/ml)</text>
<text x="101" y="2381" textLength="56" lengthAdjust="spacingAndGlyphs">Vinco</text>
<text x="103" y="2412" textLength="99" lengthAdjust="spacingAndGlyphs">(80μg/ml)</text>
</g>
<!-- row1 -->
<rect x="168" y="2018" width="160" height="141" fill="#000008"/><rect x="168" y="2018" width="160" height="141" fill="url(#n1)" opacity="0.85"/>
<rect x="335" y="2018" width="151" height="141" fill="#00000a"/><rect x="335" y="2018" width="151" height="141" fill="url(#n1d)" opacity="0.85"/>
<rect x="494" y="2020" width="152" height="139" fill="#000010"/><rect x="494" y="2020" width="152" height="139" fill="url(#n1)" opacity="0.85"/>
<rect x="652" y="2020" width="153" height="139" fill="#00000c"/><rect x="652" y="2020" width="153" height="139" fill="url(#n1d)" opacity="0.7"/>
<!-- row2 -->
<rect x="168" y="2165" width="160" height="146" fill="#00041c"/><rect x="168" y="2165" width="160" height="146" fill="url(#n2)" opacity="0.85"/>
<rect x="335" y="2165" width="151" height="146" fill="#000620"/><rect x="335" y="2165" width="151" height="146" fill="url(#n2)" opacity="0.95"/>
<rect x="494" y="2167" width="152" height="142" fill="#000418"/><rect x="494" y="2167" width="152" height="142" fill="url(#n2)" opacity="0.75"/>
<rect x="652" y="2167" width="153" height="142" fill="#00031a"/><rect x="652" y="2167" width="153" height="142" fill="url(#n2)" opacity="0.7"/>
<g fill="#28c8e0">
<circle cx="210" cy="2273" r="6"/><circle cx="255" cy="2253" r="5"/><circle cx="370" cy="2240" r="7"/><circle cx="455" cy="2240" r="6"/>
<circle cx="508" cy="2195" r="6"/><circle cx="530" cy="2190" r="5"/><circle cx="690" cy="2190" r="5"/>
</g>
<!-- row3 -->
<rect x="168" y="2317" width="160" height="146" fill="#00051e"/><rect x="168" y="2317" width="160" height="146" fill="url(#n3)" opacity="0.9"/>
<rect x="335" y="2317" width="151" height="146" fill="#000004"/>
<g fill="#1e40c8"><circle cx="350" cy="2330" r="6"/><ellipse cx="372" cy="2395" rx="12" ry="10"/><ellipse cx="395" cy="2405" rx="14" ry="12"/><ellipse cx="385" cy="2380" rx="8" ry="6"/><circle cx="454" cy="2393" r="7"/><circle cx="460" cy="2446" r="6"/></g>
<circle cx="420" cy="2343" r="5" fill="#a0e8ff"/>
<rect x="494" y="2319" width="152" height="144" fill="#00041c"/><rect x="494" y="2319" width="152" height="144" fill="url(#n3)" opacity="0.85"/>
<rect x="652" y="2319" width="153" height="144" fill="#00031a"/><rect x="652" y="2319" width="153" height="144" fill="url(#n3)" opacity="0.8"/>
<g fill="#30e0e8"><circle cx="720" cy="2330" r="9"/><circle cx="745" cy="2335" r="10"/><circle cx="770" cy="2345" r="8"/><circle cx="790" cy="2330" r="7"/><circle cx="240" cy="2420" r="9"/><circle cx="570" cy="2340" r="9"/><circle cx="252" cy="2345" r="8"/></g>
<!-- arrows -->
<use href="#arr" x="308" y="2244"/><use href="#arr" x="432" y="2232"/><use href="#arr" x="558" y="2240"/><use href="#arr" x="688" y="2242"/>
<use href="#arr" x="206" y="2372"/><use href="#arr" x="244" y="2361"/><use href="#arr" x="303" y="2376"/><use href="#arr" x="222" y="2440"/>
<use href="#arr" x="398" y="2392"/><use href="#arr" x="390" y="2398"/>
<use href="#arr" x="542" y="2368"/><use href="#arr" x="605" y="2396"/><use href="#arr" x="548" y="2417"/>
<use href="#arr" x="734" y="2353"/><use href="#arr" x="770" y="2351"/><use href="#arr" x="705" y="2390"/>
<!-- scale bars -->
<g stroke="#e08030" stroke-width="2">
<line x1="288" y1="2134" x2="311" y2="2134"/><line x1="446" y1="2134" x2="469" y2="2134"/><line x1="604" y1="2134" x2="627" y2="2134"/><line x1="764" y1="2136" x2="787" y2="2136"/>
<line x1="288" y1="2284" x2="311" y2="2284"/><line x1="446" y1="2282" x2="469" y2="2282"/><line x1="604" y1="2282" x2="627" y2="2282"/><line x1="764" y1="2286" x2="787" y2="2286"/>
<line x1="288" y1="2435" x2="311" y2="2435"/><line x1="446" y1="2436" x2="469" y2="2436"/><line x1="604" y1="2437" x2="627" y2="2437"/><line x1="764" y1="2444" x2="787" y2="2444"/>
</g>
<g font-size="13" fill="#ff2020" text-anchor="middle">
<text x="299" y="2148">20 μM</text><text x="457" y="2148">20 μM</text><text x="615" y="2146">20 μM</text><text x="775" y="2150">20 μM</text>
<text x="299" y="2298">20 μM</text><text x="457" y="2296">20 μM</text><text x="615" y="2296">20 μM</text><text x="775" y="2300">20 μM</text>
<text x="299" y="2449">20 μM</text><text x="457" y="2450">20 μM</text><text x="615" y="2451">20 μM</text><text x="775" y="2458">20 μM</text>
</g>

<!-- ============ PANEL F chart ============ -->
<g stroke="#333" stroke-width="1.3">
<line x1="976" y1="2027" x2="976" y2="2463"/>
<line x1="970" y1="2027" x2="976" y2="2027"/><line x1="972" y1="2081.5" x2="976" y2="2081.5"/><line x1="970" y1="2136" x2="976" y2="2136"/><line x1="972" y1="2190.5" x2="976" y2="2190.5"/><line x1="970" y1="2245" x2="976" y2="2245"/><line x1="972" y1="2299.5" x2="976" y2="2299.5"/><line x1="970" y1="2354" x2="976" y2="2354"/><line x1="972" y1="2408.5" x2="976" y2="2408.5"/><line x1="970" y1="2463" x2="976" y2="2463"/>
</g>
<line x1="975" y1="2463" x2="1681" y2="2463" stroke="#223" stroke-width="2"/>
<g font-size="23" text-anchor="end" fill="#666">
<text x="962" y="2035">40</text><text x="962" y="2144">30</text><text x="962" y="2253">20</text><text x="962" y="2362">10</text><text x="962" y="2471">0</text>
</g>
<text transform="translate(886,2226) rotate(-90)" text-anchor="middle" font-size="25" textLength="500" lengthAdjust="spacingAndGlyphs" fill="#222">Quantitation of the nuclear morphological changes</text>
<text transform="translate(916,2227) rotate(-90)" text-anchor="middle" font-size="25" textLength="140" lengthAdjust="spacingAndGlyphs" fill="#222">(% total cells)</text>
<g>
<rect x="1011" y="2442.3" width="31" height="20.7" fill="url(#gFb)"/><rect x="1051" y="2424.3" width="30" height="38.7" fill="url(#gFo)"/><rect x="1090" y="2328.4" width="29" height="134.6" fill="url(#gFr)"/>
<rect x="1188" y="2443.8" width="30" height="19.2" fill="url(#gFb)"/><rect x="1227" y="2406.6" width="29" height="56.4" fill="url(#gFo)"/><rect x="1266" y="2126.7" width="30" height="336.3" fill="url(#gFr)"/>
<rect x="1363" y="2445" width="30" height="18" fill="url(#gFb)"/><rect x="1403" y="2419.3" width="30" height="43.7" fill="url(#gFo)"/><rect x="1442" y="2233.3" width="29" height="229.7" fill="url(#gFr)"/>
<rect x="1540" y="2442.7" width="30" height="20.3" fill="url(#gFb)"/><rect x="1579" y="2410.9" width="30" height="52.1" fill="url(#gFo)"/><rect x="1618" y="2214.9" width="30" height="248.1" fill="url(#gFr)"/>
</g>
<g stroke="#555" stroke-width="1.3" fill="none">
<path d="M1026.5,2441 V2442.3 M1023,2441 H1030 M1066,2420 V2424.3 M1062.5,2420 H1069.5 M1104.5,2323 V2328.4 M1101,2323 H1108"/>
<path d="M1203,2441.5 V2443.8 M1199.5,2441.5 H1206.5 M1241.5,2403.6 V2406.6 M1238,2403.6 H1245 M1281,2109.8 V2126.7 M1277.5,2109.8 H1284.5"/>
<path d="M1378,2442 V2445 M1374.5,2442 H1381.5 M1418,2414.3 V2419.3 M1414.5,2414.3 H1421.5 M1456.5,2217.8 V2233.3 M1453,2217.8 H1460"/>
<path d="M1555,2441 V2442.7 M1551.5,2441 H1558.5 M1594,2406.6 V2410.9 M1590.5,2406.6 H1597.5 M1633,2198.1 V2214.9 M1629.5,2198.1 H1636.5"/>
</g>
<g stroke="#444" stroke-width="1.5" fill="none">
<path d="M1026.4,2416.2 V2398.1 H1065.8 V2416.2"/>
<path d="M1028.2,2318.3 V2289.5 H1102.8 V2318.3"/>
<path d="M1200.2,2398.9 V2381.6 H1239 V2398.9"/>
<path d="M1204.4,2105.1 V2076.3 H1280.3 V2105.1"/>
<path d="M1378.8,2409.3 V2392.4 H1417.7 V2409.3"/>
<path d="M1380.6,2212.7 V2184.6 H1455.3 V2212.7"/>
<path d="M1553.9,2404.7 V2386.2 H1592.7 V2404.7"/>
<path d="M1556.8,2193.5 V2165.8 H1631.5 V2193.5"/>
</g>
<g font-size="24" text-anchor="middle" fill="#111">
<text x="1042" y="2392" textLength="70" lengthAdjust="spacingAndGlyphs"><tspan font-style="italic">P</tspan>&lt;0.05</text>
<text x="1068" y="2282" textLength="70" lengthAdjust="spacingAndGlyphs"><tspan font-style="italic">P</tspan>&lt;0.01</text>
<text x="1215" y="2376" textLength="70" lengthAdjust="spacingAndGlyphs"><tspan font-style="italic">P</tspan>&lt;0.05</text>
<text x="1240" y="2069" textLength="70" lengthAdjust="spacingAndGlyphs"><tspan font-style="italic">P</tspan>&lt;0.01</text>
<text x="1394" y="2386" textLength="70" lengthAdjust="spacingAndGlyphs"><tspan font-style="italic">P</tspan>&lt;0.05</text>
<text x="1415" y="2178" textLength="70" lengthAdjust="spacingAndGlyphs"><tspan font-style="italic">P</tspan>&lt;0.01</text>
<text x="1560" y="2378" textLength="70" lengthAdjust="spacingAndGlyphs"><tspan font-style="italic">P</tspan>&lt;0.05</text>
<text x="1590" y="2158" textLength="70" lengthAdjust="spacingAndGlyphs"><tspan font-style="italic">P</tspan>&lt;0.01</text>
</g>
<rect x="1560" y="2022" width="12" height="16" fill="#5b9bd5"/>
<rect x="1560" y="2059" width="12" height="16" fill="url(#gFo)"/>
<rect x="1560" y="2096" width="12" height="16" fill="#8e1c1c"/>
<g font-size="22" fill="#111">
<text x="1585" y="2036" textLength="64" lengthAdjust="spacingAndGlyphs">control</text>
<text x="1584" y="2074" textLength="142" lengthAdjust="spacingAndGlyphs">Vinco(10μg/ml)</text>
<text x="1584" y="2111" textLength="142" lengthAdjust="spacingAndGlyphs">Vinco(80μg/ml)</text>
</g>
<g font-size="22" text-anchor="middle" fill="#111">
<text x="1058" y="2500" textLength="42" lengthAdjust="spacingAndGlyphs">L-02</text>
<text x="1237" y="2497" textLength="42" lengthAdjust="spacingAndGlyphs">HLE</text>
<text x="1409" y="2497" textLength="79" lengthAdjust="spacingAndGlyphs">Bel 7402</text>
<text x="1582" y="2497" textLength="101" lengthAdjust="spacingAndGlyphs">PLC/PRF/5</text>
</g>
</svg>
</body></html>
